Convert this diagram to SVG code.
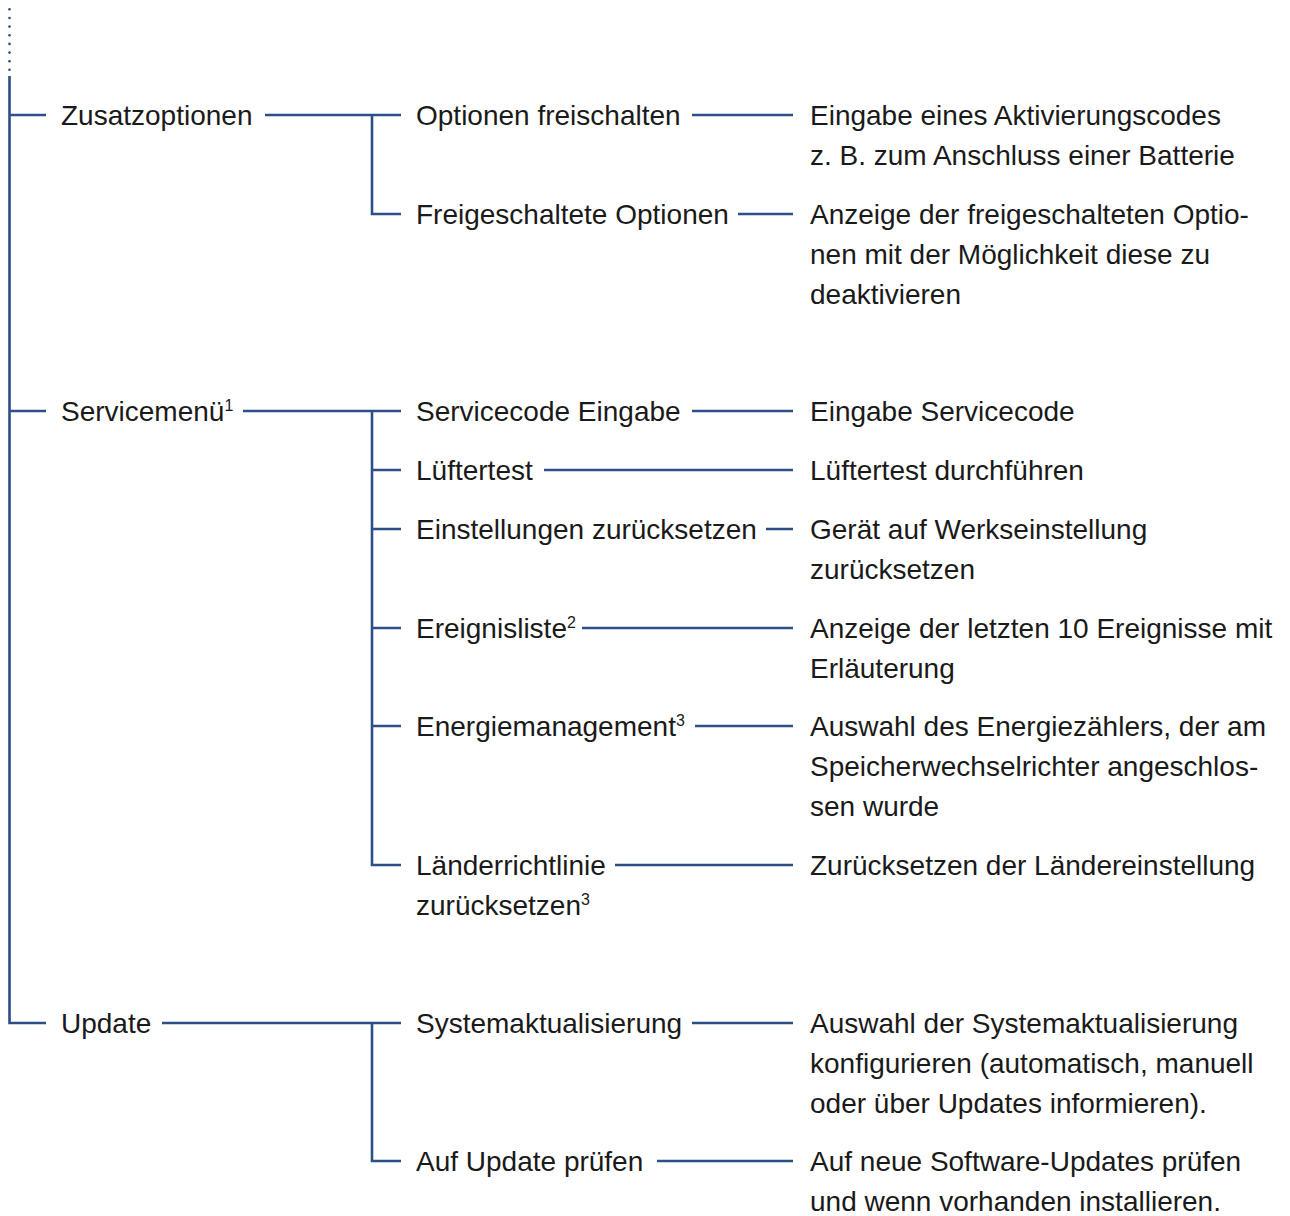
<svg xmlns="http://www.w3.org/2000/svg" width="1290" height="1216" viewBox="0 0 1290 1216">
<style>
text{font-family:"Liberation Sans",Arial,sans-serif;font-size:28px;fill:#1a1a1a}
.c{stroke:#2b4f86;stroke-width:2.6;fill:none}
.d{fill:#2b4f86}
.s{font-size:16px}
</style>
<rect width="1290" height="1216" fill="#fff"/>
<g id="connectors">
<g class="d">
<circle cx="9.5" cy="9.3" r="1.3"/><circle cx="9.5" cy="18" r="1.3"/><circle cx="9.5" cy="26.6" r="1.3"/><circle cx="9.5" cy="35.3" r="1.3"/><circle cx="9.5" cy="43.9" r="1.3"/><circle cx="9.5" cy="52.6" r="1.3"/><circle cx="9.5" cy="61.2" r="1.3"/><circle cx="9.5" cy="69.8" r="1.3"/>
</g>
<path class="c" d="M9.5 76V1023H46M9.5 115H46M9.5 411H46"/>
<path class="c" d="M265 115H401M372 115V214H401M692 115H793M738 214H793"/>
<path class="c" d="M243 411H401M372 411V865H401M372 470H401M372 529H401M372 628H401M372 726H401"/>
<path class="c" d="M692 411H793M544 470H793M766 529H793M582 628H793M695 726H793M615 865H793"/>
<path class="c" d="M162 1023H401M372 1023V1161H401M692 1023H793M657 1161H793"/>
</g>
<g id="n-zusatzoptionen"><text x="61" y="125">Zusatzoptionen</text></g>
<g id="n-optionen-freischalten"><text x="416" y="125">Optionen freischalten</text></g>
<g id="d-optionen-freischalten"><text x="810" y="125">Eingabe eines Aktivierungscodes</text><text x="810" y="165">z. B. zum Anschluss einer Batterie</text></g>
<g id="n-freigeschaltete-optionen"><text x="416" y="224">Freigeschaltete Optionen</text></g>
<g id="d-freigeschaltete-optionen"><text x="810" y="224">Anzeige der freigeschalteten Optio-</text><text x="810" y="264">nen mit der Möglichkeit diese zu</text><text x="810" y="304">deaktivieren</text></g>
<g id="n-servicemenu"><text x="61" y="421">Servicemenü<tspan class="s" dy="-10">1</tspan></text></g>
<g id="n-servicecode"><text x="416" y="421">Servicecode Eingabe</text></g>
<g id="d-servicecode"><text x="810" y="421">Eingabe Servicecode</text></g>
<g id="n-lueftertest"><text x="416" y="480">Lüftertest</text></g>
<g id="d-lueftertest"><text x="810" y="480">Lüftertest durchführen</text></g>
<g id="n-einstellungen"><text x="416" y="539">Einstellungen zurücksetzen</text></g>
<g id="d-einstellungen"><text x="810" y="539">Gerät auf Werkseinstellung</text><text x="810" y="579">zurücksetzen</text></g>
<g id="n-ereignisliste"><text x="416" y="638">Ereignisliste<tspan class="s" dy="-10">2</tspan></text></g>
<g id="d-ereignisliste"><text x="810" y="638">Anzeige der letzten 10 Ereignisse mit</text><text x="810" y="678">Erläuterung</text></g>
<g id="n-energiemanagement"><text x="416" y="736">Energiemanagement<tspan class="s" dy="-10">3</tspan></text></g>
<g id="d-energiemanagement"><text x="810" y="736">Auswahl des Energiezählers, der am</text><text x="810" y="776">Speicherwechselrichter angeschlos-</text><text x="810" y="816">sen wurde</text></g>
<g id="n-laenderrichtlinie"><text x="416" y="875">Länderrichtlinie</text><text x="416" y="915">zurücksetzen<tspan class="s" dy="-10">3</tspan></text></g>
<g id="d-laenderrichtlinie"><text x="810" y="875">Zurücksetzen der Ländereinstellung</text></g>
<g id="n-update"><text x="61" y="1033">Update</text></g>
<g id="n-systemaktualisierung"><text x="416" y="1033">Systemaktualisierung</text></g>
<g id="d-systemaktualisierung"><text x="810" y="1033">Auswahl der Systemaktualisierung</text><text x="810" y="1073">konfigurieren (automatisch, manuell</text><text x="810" y="1113">oder über Updates informieren).</text></g>
<g id="n-auf-update"><text x="416" y="1171">Auf Update prüfen</text></g>
<g id="d-auf-update"><text x="810" y="1171">Auf neue Software-Updates prüfen</text><text x="810" y="1211">und wenn vorhanden installieren.</text></g>
</svg>
